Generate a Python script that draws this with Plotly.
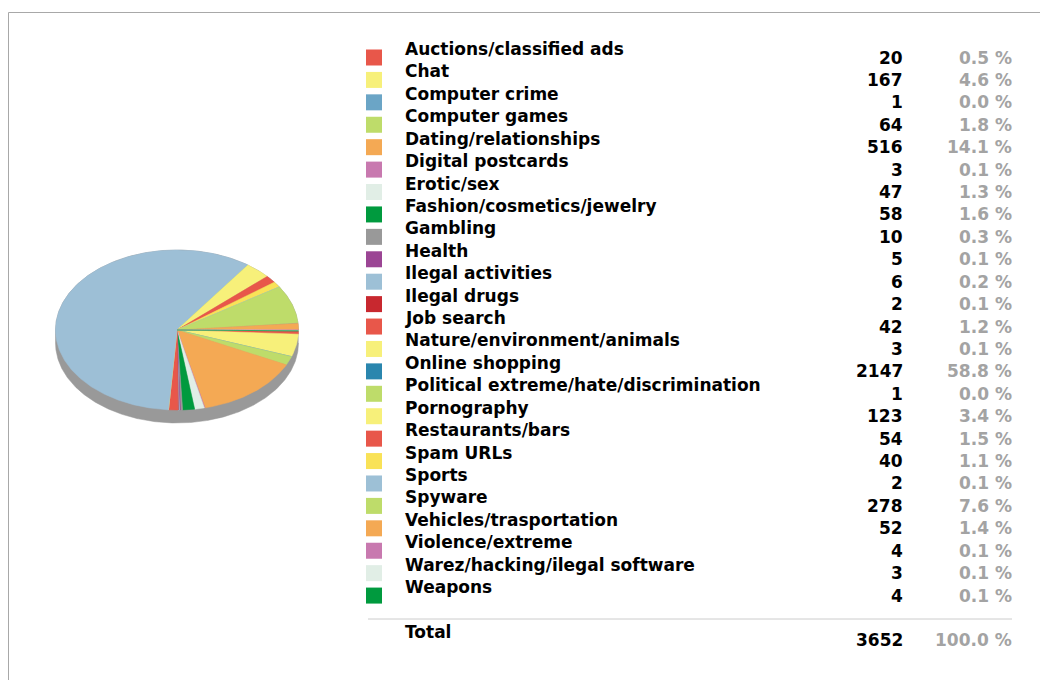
import math
import plotly.graph_objects as go

# ---- data -------------------------------------------------------------
categories = [
    "Auctions/classified ads", "Chat", "Computer crime", "Computer games",
    "Dating/relationships", "Digital postcards", "Erotic/sex",
    "Fashion/cosmetics/jewelry", "Gambling", "Health", "Ilegal activities",
    "Ilegal drugs", "Job search", "Nature/environment/animals",
    "Online shopping", "Political extreme/hate/discrimination", "Pornography",
    "Restaurants/bars", "Spam URLs", "Sports", "Spyware",
    "Vehicles/trasportation", "Violence/extreme",
    "Warez/hacking/ilegal software", "Weapons",
]
counts = [20, 167, 1, 64, 516, 3, 47, 58, 10, 5, 6, 2, 42, 3, 2147, 1,
          123, 54, 40, 2, 278, 52, 4, 3, 4]
swatch_colors = [
    "#E8574A", "#F7F07A", "#6BA5C6", "#BEDC6A", "#F4A954", "#C879AF",
    "#E1EEE6", "#009A3E", "#999999", "#9B4594", "#9DC0D6", "#C8282F",
    "#E8574A", "#F7F07A", "#2A86AE", "#BEDC6A", "#F7F07A", "#E8574A",
    "#F9E257", "#9DC0D6", "#BEDC6A", "#F4A954", "#C879AF", "#E1EEE6",
    "#009A3E",
]
# the large online-shopping wedge is painted in a lighter blue
slice_colors = list(swatch_colors)
slice_colors[categories.index("Online shopping")] = "#9DBFD6"

total = sum(counts)
percents = [100.0 * c / total for c in counts]

# ---- layout constants -------------------------------------------------
W, H = 1040, 680
CX, CY, RX, RY, DEPTH = 177, 330, 121.5, 80, 13
START_DEG = 91          # first wedge starts here, clockwise from 12 o'clock
ROW0, ROW_STEP = 49, 22.42
FONT = "DejaVu Sans, Verdana, sans-serif"
TXT = "#000000"
GREY_TXT = "#A3A3A3"


def rim(theta_deg, dy=0.0):
    t = math.radians(theta_deg)
    return CX + RX * math.sin(t), CY + dy - RY * math.cos(t)


def arc(a0, a1, dy=0.0):
    n = max(2, int(abs(a1 - a0) / 0.5) + 1)
    pts = [rim(a0 + (a1 - a0) * k / (n - 1), dy) for k in range(n)]
    return [p[0] for p in pts], [p[1] for p in pts]


fig = go.Figure()

# side wall of the tilted disc
bx, by = arc(90, 270, DEPTH)
tx, ty = arc(270, 450)
fig.add_trace(go.Scatter(
    x=bx + tx, y=by + ty, fill="toself", mode="lines",
    fillcolor="#999999", line=dict(color="#999999", width=0.5),
    hoverinfo="skip", showlegend=False))

# top face wedges
angle = START_DEG
for name, c, col in zip(categories, counts, slice_colors):
    sweep = 360.0 * c / total
    ax, ay = arc(angle, angle + sweep)
    fig.add_trace(go.Scatter(
        x=[CX] + ax + [CX], y=[CY] + ay + [CY], fill="toself", mode="lines",
        fillcolor=col, line=dict(color=col, width=0.5),
        name=name, hoverinfo="name", showlegend=False))
    angle += sweep

shapes = []
annotations = []

# table of categories
for i, (name, c, p, col) in enumerate(zip(categories, counts, percents, swatch_colors)):
    y_lab = ROW0 + ROW_STEP * i
    y_val = y_lab + 8.5
    shapes.append(dict(type="rect", xref="x", yref="y",
                       x0=366, x1=382, y0=y_val - 8, y1=y_val + 8,
                       fillcolor=col, line=dict(width=0)))
    annotations.append(dict(x=403, y=y_lab, text=f"<b>{name}</b>",
                            xanchor="left", yanchor="middle",
                            font=dict(family=FONT, size=17, color=TXT)))
    annotations.append(dict(x=905, y=y_val, text=f"<b>{c}</b>",
                            xanchor="right", yanchor="middle",
                            font=dict(family=FONT, size=17, color=TXT)))
    annotations.append(dict(x=1014, y=y_val, text=f"<b>{p:.1f} %</b>",
                            xanchor="right", yanchor="middle",
                            font=dict(family=FONT, size=17, color=GREY_TXT)))

# total row
shapes.append(dict(type="line", xref="x", yref="y", x0=368, x1=1012,
                   y0=619, y1=619, line=dict(color="#CCCCCC", width=1)))
annotations.append(dict(x=403, y=632, text="<b>Total</b>",
                        xanchor="left", yanchor="middle",
                        font=dict(family=FONT, size=17, color=TXT)))
annotations.append(dict(x=905, y=640, text=f"<b>{total}</b>",
                        xanchor="right", yanchor="middle",
                        font=dict(family=FONT, size=17, color=TXT)))
annotations.append(dict(x=1014, y=640, text="<b>100.0 %</b>",
                        xanchor="right", yanchor="middle",
                        font=dict(family=FONT, size=17, color=GREY_TXT)))

# frame
shapes.append(dict(type="rect", xref="x", yref="y", x0=8.5, x1=1060,
                   y0=12.5, y1=700, line=dict(color="#A8A8A8", width=1),
                   fillcolor="rgba(0,0,0,0)"))

for a in annotations:
    a.update(xref="x", yref="y", showarrow=False)

fig.update_layout(
    width=W, height=H,
    margin=dict(l=0, r=0, t=0, b=0),
    paper_bgcolor="white", plot_bgcolor="white",
    xaxis=dict(range=[0, W], visible=False, fixedrange=True),
    yaxis=dict(range=[H, 0], visible=False, fixedrange=True),
    shapes=shapes, annotations=annotations,
    showlegend=False,
)

fig.write_html("out.html")
